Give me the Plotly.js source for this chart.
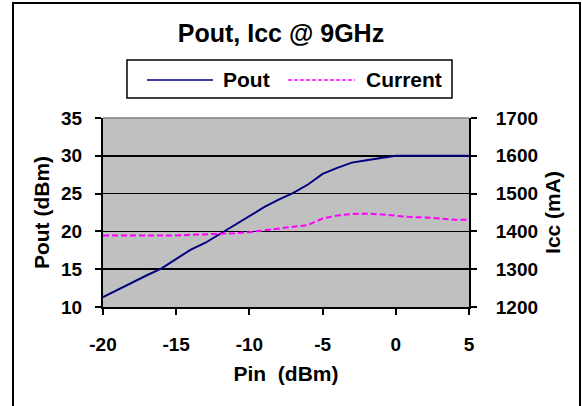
<!DOCTYPE html>
<html>
<head>
<meta charset="utf-8">
<script src="https://cdn.plot.ly/plotly-3.0.1.min.js"></script>
<style>
html,body{margin:0;padding:0;background:#fff;}
#wrap{position:relative;width:582px;height:406px;overflow:hidden;}
#chart{width:582px;height:406px;}
#frame{position:absolute;left:12px;top:2px;width:565px;height:430px;border:2px solid #000;pointer-events:none;}
</style>
</head>
<body>
<div id="wrap"><div id="chart"></div><div id="frame"></div></div>
<script>
// Data
const pin = [-20,-19,-18,-17,-16,-15,-14,-13,-12,-11,-10,-9,-8,-7,-6,-5,-4,-3,-2,-1,0,1,2,3,4,5];
const pout = [11.3,12.3,13.3,14.2,15.1,16.4,17.6,18.5,19.7,20.9,22.1,23.2,24.2,25.1,26.2,27.6,28.4,29.1,29.4,29.7,30.0,30,30,30,30,30];
const icc = [1389,1389,1389,1389,1389,1389,1391,1392,1393,1395,1398,1403,1408,1412,1417,1434,1442,1446,1447,1445,1441,1438,1437,1435,1431,1431];
const seriesNames = ['Pout','Current'];
const xTickVals = [-20,-15,-10,-5,0,5];
const yTickVals = [10,15,20,25,30,35];
const y2TickVals = [1200,1300,1400,1500,1600,1700];

const W = 582, H = 406;
const mL = 103, mR = 113, mT = 118, mB = 99;
const pw = W - mL - mR, ph = H - mT - mB;
const px = x => (x - mL) / pw;
const py = y => (H - mB - y) / ph;

const F = 'Liberation Sans, Arial, sans-serif';
const font = (s) => ({family: F, size: s, color: '#000', weight: 'bold'});

const traces = [
  {x: pin, y: pout, type: 'scatter', mode: 'lines', name: seriesNames[0],
   line: {color: '#000080', width: 2}, yaxis: 'y'},
  {x: pin, y: icc, type: 'scatter', mode: 'lines', name: seriesNames[1],
   line: {color: '#FF00FF', width: 2, dash: '6px,3px'}, yaxis: 'y2'}
];

const layout = {
  width: W, height: H, autosize: false,
  margin: {l: mL, r: mR, t: mT, b: mB, pad: 0},
  paper_bgcolor: '#fff', plot_bgcolor: '#C0C0C0',
  showlegend: false,
  title: {text: 'Pout, Icc @ 9GHz', font: font(25), xref: 'container', yref: 'container',
          x: 281 / W, y: 1 - 33 / H, xanchor: 'center', yanchor: 'middle'},
  xaxis: {range: [-20, 5], tickvals: xTickVals, ticktext: xTickVals.map(String),
          showgrid: false, zeroline: false, showline: true, linecolor: '#000', linewidth: 2,
          ticks: 'outside', ticklen: 6, tickwidth: 2, tickcolor: '#000',
          tickfont: font(19), ticklabelstandoff: 13, automargin: false,
          title: {text: 'Pin  (dBm)', font: font(21), standoff: 13}},
  yaxis: {range: [10, 35], tickvals: yTickVals, ticktext: yTickVals.map(String),
          showgrid: true, gridcolor: '#000', gridwidth: 1.5, zeroline: false,
          showline: true, linecolor: '#000', linewidth: 2,
          ticks: 'outside', ticklen: 6, tickwidth: 2, tickcolor: '#000',
          tickfont: font(19), ticklabelstandoff: 9, automargin: false,
          title: {text: 'Pout (dBm)', font: font(21), standoff: 6}},
  yaxis2: {range: [1200, 1700], tickvals: y2TickVals, ticktext: y2TickVals.map(String),
           overlaying: 'y', side: 'right', showgrid: false, zeroline: false,
           showline: true, linecolor: '#000', linewidth: 2,
           ticks: 'outside', ticklen: 6, tickwidth: 2, tickcolor: '#000',
           tickfont: font(19), ticklabelstandoff: 15, automargin: false,
           title: {text: 'Icc (mA)', font: font(21), standoff: 8}},
  shapes: [
    {type: 'line', xref: 'paper', yref: 'paper', x0: 0, x1: 1, y0: 1, y1: 1,
     line: {color: '#808080', width: 1.5}},
    {type: 'rect', xref: 'paper', yref: 'paper', x0: px(127), x1: px(452), y0: py(98), y1: py(60),
     line: {color: '#000', width: 1.5}, fillcolor: 'rgba(0,0,0,0)'},
    {type: 'line', xref: 'paper', yref: 'paper', x0: px(147), x1: px(213), y0: py(80), y1: py(80),
     line: {color: '#000080', width: 1.5}},
    {type: 'line', xref: 'paper', yref: 'paper', x0: px(288), x1: px(355), y0: py(80), y1: py(80),
     line: {color: '#FF00FF', width: 1.5, dash: '4px,2px'}}
  ],
  annotations: [
    {text: seriesNames[0], xref: 'paper', yref: 'paper', x: px(221), y: py(79), xanchor: 'left', yanchor: 'middle',
     showarrow: false, font: font(21)},
    {text: seriesNames[1], xref: 'paper', yref: 'paper', x: px(364), y: py(79), xanchor: 'left', yanchor: 'middle',
     showarrow: false, font: font(21)}
  ]
};

Plotly.newPlot('chart', traces, layout, {staticPlot: true, displayModeBar: false});
</script>
</body>
</html>
